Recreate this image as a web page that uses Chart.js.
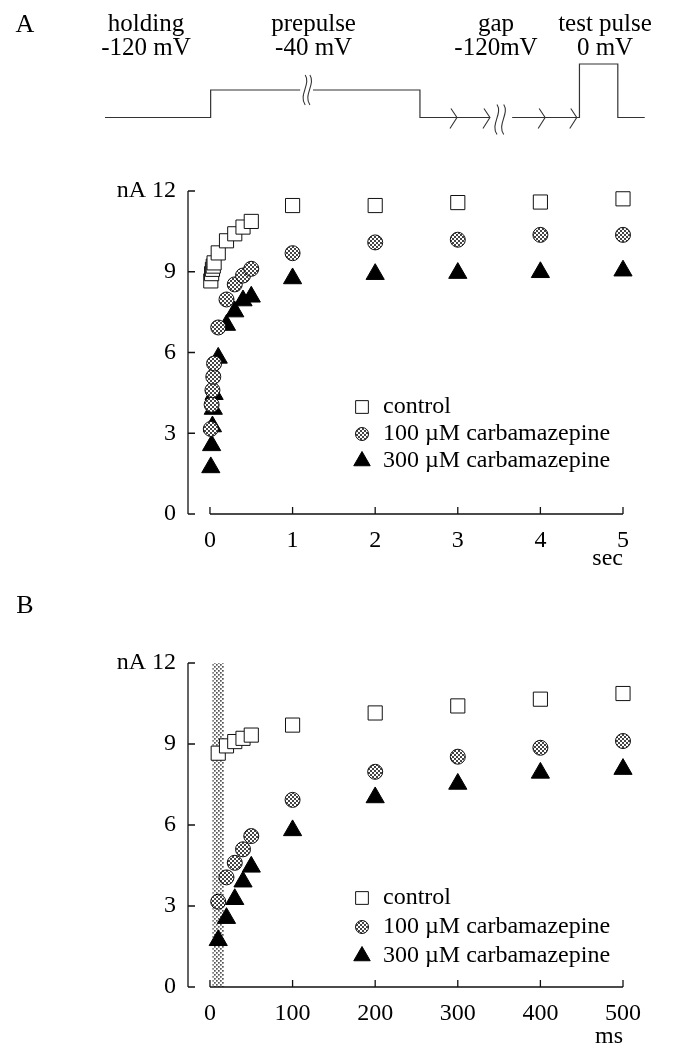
<!DOCTYPE html>
<html>
<head>
<meta charset="utf-8">
<script src="https://cdn.jsdelivr.net/npm/chart.js@4.4.0/dist/chart.umd.min.js"></script>
<style>
html, body { margin: 0; padding: 0; background: #fff; }
#wrap { position: relative; width: 673px; height: 1049px; overflow: hidden; }
canvas { position: absolute; left: 0; }
</style>
</head>
<body>
<div id="wrap">
  <canvas id="proto" width="673" height="150" style="top:0px"></canvas>
  <canvas id="panelA" width="673" height="430" style="top:150px"></canvas>
  <canvas id="panelB" width="673" height="469" style="top:580px"></canvas>
</div>
<script>
// voltage protocol, schematic time units, level 0 = -120 mV, 1 = -40 mV, top = 0 mV
const protoT = [15.6, 31.3, 31.3, 44.6, 45.5, 46.5, 62.4, 62.4, 72.8, 74.4, 76.1, 86.1, 86.1, 91.8, 91.8, 95.8];
const protoLevel = [0, 0, 1, 1, null, 1, 1, 0, 0, null, 0, 0, 1.945, 1.945, 0, 0];
const protoBreaks = [[45.2, 1], [45.9, 1], [73.7, 0], [74.7, 0]];
const protoArrows = [67.9, 72.8, 81.0, 85.7];
const protoLabelT = [21.7, 46.6, 73.7, 89.9];
const protoLabels = [['holding', '-120 mV'], ['prepulse', '-40 mV'], ['gap', '-120mV'], ['test pulse', '0 mV']];

// peak current (nA) after recovery gap
const earlyMs = [10, 20, 30, 40, 50, 100, 200, 300, 400, 500];
const lateSec = [1, 2, 3, 4, 5];
const controlEarly = [8.66, 8.93, 9.09, 9.21, 9.33, 9.7, 10.15, 10.41, 10.66, 10.87];
const controlLate = [11.46, 11.46, 11.57, 11.59, 11.71];
const cbz100Early = [3.16, 4.06, 4.6, 5.1, 5.59, 6.93, 7.97, 8.53, 8.86, 9.11];
const cbz100Late = [9.69, 10.09, 10.19, 10.37, 10.37];
const cbz300Early = [1.73, 2.55, 3.25, 3.9, 4.45, 5.8, 7.02, 7.52, 7.93, 8.07];
const cbz300Late = [8.75, 8.91, 8.95, 8.98, 9.04];
const seriesNames = ['control', '100 µM carbamazepine', '300 µM carbamazepine'];

const yTicks = [0, 3, 6, 9, 12];
const xTicksA = [0, 1, 2, 3, 4, 5];
const xTicksB = [0, 100, 200, 300, 400, 500];
const bandMs = [3, 17];

const SERIF = '"Liberation Serif", "DejaVu Serif", serif';
Chart.defaults.font.family = SERIF;
Chart.defaults.font.size = 24;
Chart.defaults.color = '#000';

function dots(ctx, color, size) {
    const c = document.createElement('canvas');
    c.width = 4; c.height = 4;
    const g = c.getContext('2d');
    g.fillStyle = '#fff';
    g.fillRect(0, 0, 4, 4);
    g.fillStyle = color;
    g.fillRect(0, 0, size, size);
    g.fillRect(2, 2, size, size);
    return ctx.createPattern(c, 'repeat');
}

const ctxProto = document.getElementById('proto').getContext('2d');
const ctxA = document.getElementById('panelA').getContext('2d');
const ctxB = document.getElementById('panelB').getContext('2d');
const bandFill = dots(ctxB, '#555', 1.7);

const legendRadius = [9, 6.5, 9.5];

const paperPlugin = {
    id: 'paper',
    beforeDatasetsDraw(chart, args, o) {
        if (!o.band) return;
        const { ctx, scales: { x, y } } = chart;
        const x0 = x.getPixelForValue(o.band[0]);
        const x1 = x.getPixelForValue(o.band[1]);
        const yt = y.getPixelForValue(yTicks[yTicks.length - 1]);
        const yb = y.getPixelForValue(0);
        ctx.save();
        ctx.fillStyle = bandFill;
        ctx.fillRect(x0, yt, x1 - x0, yb - yt);
        ctx.restore();
    },
    afterDraw(chart, args, o) {
        const { ctx, scales: { x, y } } = chart;
        const ax = chart.chartArea.left;
        const yb = y.getPixelForValue(0);
        const xt = o.xTicks;
        ctx.save();
        ctx.strokeStyle = '#111';
        ctx.lineWidth = 1.3;
        ctx.beginPath();
        ctx.moveTo(ax, y.getPixelForValue(yTicks[yTicks.length - 1]));
        ctx.lineTo(ax, yb);
        yTicks.forEach(v => {
            const p = y.getPixelForValue(v);
            ctx.moveTo(ax, p);
            ctx.lineTo(ax + 7, p);
        });
        ctx.moveTo(x.getPixelForValue(xt[0]), yb);
        ctx.lineTo(x.getPixelForValue(xt[xt.length - 1]), yb);
        xt.forEach(v => {
            const p = x.getPixelForValue(v);
            ctx.moveTo(p, yb);
            ctx.lineTo(p, yb - 7);
        });
        ctx.stroke();

        // legend
        chart.data.datasets.forEach((d, i) => {
            const ly = o.legendY[i];
            ctx.fillStyle = d.pointBackgroundColor;
            ctx.strokeStyle = d.pointBorderColor;
            ctx.lineWidth = 1;
            Chart.helpers.drawPoint(ctx, { pointStyle: d.pointStyle, radius: legendRadius[i], rotation: 0, borderWidth: 1 }, o.legendX, ly);
            ctx.fillStyle = '#000';
            ctx.font = '24px ' + SERIF;
            ctx.textAlign = 'left';
            ctx.textBaseline = 'middle';
            ctx.fillText(d.label, o.legendX + 21, ly);
        });

        ctx.font = '26px ' + SERIF;
        ctx.textAlign = 'center';
        ctx.fillText(o.letter, 25, o.letterY);
        ctx.restore();
    }
};

function makeDatasets(ctx, xs, control, cbz100, cbz300) {
    const pts = arr => arr.map((v, i) => ({ x: xs[i], y: v }));
    return [
        {
            label: seriesNames[0], data: pts(control), pointStyle: 'rect', pointRadius: 10,
            pointBackgroundColor: '#fff', pointBorderColor: '#111', pointBorderWidth: 1, clip: false
        },
        {
            label: seriesNames[1], data: pts(cbz100), pointStyle: 'circle', pointRadius: 7.5,
            pointBackgroundColor: dots(ctx, '#444', 2), pointBorderColor: '#111', pointBorderWidth: 1, clip: false
        },
        {
            label: seriesNames[2], data: pts(cbz300), pointStyle: 'triangle', pointRadius: 10.5,
            pointBackgroundColor: '#000', pointBorderColor: '#000', pointBorderWidth: 1, clip: false
        }
    ];
}

function panelOptions(xMin, xMax, xTicks, unit, xHeight, padTop, titlePad, paper) {
    return {
        responsive: false,
        animation: false,
        devicePixelRatio: 1,
        events: [],
        layout: { padding: { left: 0, right: 50, top: padTop, bottom: 0 } },
        scales: {
            x: {
                type: 'linear',
                min: xMin,
                max: xMax,
                grid: { display: false, drawTicks: false },
                border: { display: false },
                ticks: { padding: 12, maxRotation: 0 },
                afterBuildTicks: s => { s.ticks = xTicks.map(v => ({ value: v })); },
                afterFit: s => { s.height = xHeight; },
                title: { display: true, text: unit, align: 'end', padding: { top: 0, bottom: titlePad }, font: { size: 24, lineHeight: 1 } }
            },
            y: {
                min: 0,
                max: 12,
                grid: { display: false, drawTicks: false },
                border: { display: false },
                ticks: { padding: 12, callback: v => (v === 12 ? 'nA 12' : v) },
                afterBuildTicks: s => { s.ticks = yTicks.map(v => ({ value: v })); },
                afterFit: s => { s.width = 188; }
            }
        },
        plugins: {
            legend: { display: false },
            tooltip: { enabled: false },
            paper: paper
        }
    };
}

// panel A: seconds
const xsA = earlyMs.map(v => v / 1000).concat(lateSec);
new Chart(ctxA, {
    type: 'scatter',
    data: {
        datasets: makeDatasets(ctxA, xsA,
            controlEarly.concat(controlLate),
            cbz100Early.concat(cbz100Late),
            cbz300Early.concat(cbz300Late))
    },
    options: panelOptions(-0.266, 5, xTicksA, 'sec', 66, 41, 9,
        { xTicks: xTicksA, legendX: 362, legendY: [257, 284, 311], letter: '', letterY: 0 }),
    plugins: [paperPlugin]
});

// panel B: milliseconds
new Chart(ctxB, {
    type: 'scatter',
    data: { datasets: makeDatasets(ctxB, earlyMs, controlEarly, cbz100Early, cbz300Early) },
    options: panelOptions(-26.6, 500, xTicksB, 'ms', 62, 83, 0,
        { xTicks: xTicksB, band: bandMs, legendX: 362, legendY: [318, 347, 376], letter: 'B', letterY: 26 }),
    plugins: [paperPlugin]
});

// protocol sketch
const protoPlugin = {
    id: 'protoText',
    afterDraw(chart) {
        const { ctx, scales: { x, y } } = chart;
        ctx.save();
        ctx.fillStyle = '#000';
        ctx.textAlign = 'center';
        ctx.textBaseline = 'middle';
        ctx.font = '25px ' + SERIF;
        protoLabels.forEach((lines, i) => {
            const px = x.getPixelForValue(protoLabelT[i]);
            ctx.fillText(lines[0], px, 24);
            ctx.fillText(lines[1], px, 48);
        });
        ctx.font = '26px ' + SERIF;
        ctx.fillText('A', 25, 25);

        ctx.strokeStyle = '#333';
        ctx.lineWidth = 1.1;
        ctx.beginPath();
        protoBreaks.forEach(([t, lv]) => {
            const px = x.getPixelForValue(t);
            const py = y.getPixelForValue(lv) + (lv === 0 ? 2 : 0);
            ctx.moveTo(px + 1, py - 15);
            ctx.bezierCurveTo(px + 7, py - 6, px - 6, py + 5, px + 1, py + 15);
        });
        protoArrows.forEach(t => {
            const px = x.getPixelForValue(t);
            const py = y.getPixelForValue(0);
            ctx.moveTo(px - 6, py - 9);
            ctx.lineTo(px, py);
            ctx.lineTo(px - 7, py + 11);
        });
        ctx.stroke();
        ctx.restore();
    }
};

new Chart(ctxProto, {
    type: 'line',
    data: {
        datasets: [{
            data: protoT.map((t, i) => ({ x: t, y: protoLevel[i] })),
            borderColor: '#333',
            borderWidth: 1.2,
            pointRadius: 0,
            spanGaps: false,
            tension: 0
        }]
    },
    options: {
        responsive: false,
        animation: false,
        devicePixelRatio: 1,
        events: [],
        layout: { padding: 0 },
        scales: {
            x: { type: 'linear', min: 0, max: 100, display: false },
            y: { min: -1.18, max: 4.27, display: false }
        },
        plugins: { legend: { display: false }, tooltip: { enabled: false } }
    },
    plugins: [protoPlugin]
});
</script>
</body>
</html>
